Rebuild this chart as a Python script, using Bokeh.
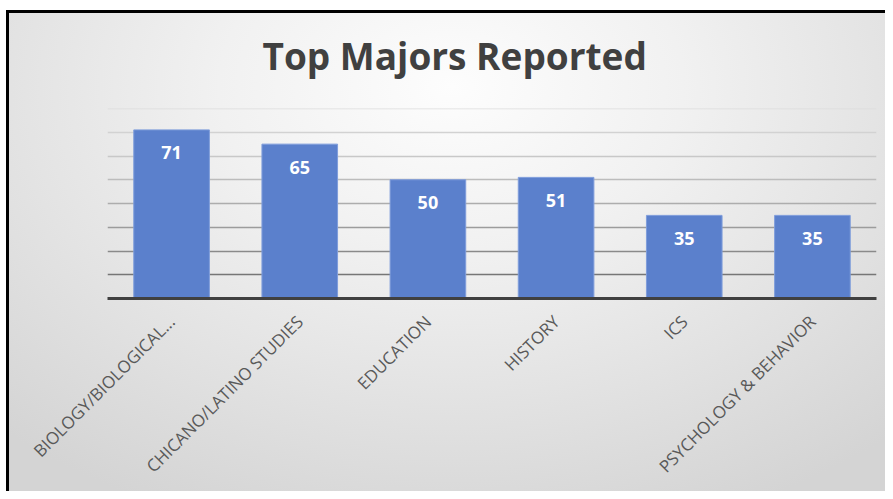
import math
from bokeh.plotting import figure
from bokeh.models import Range1d
from bokeh.core.properties import value
from bokeh.embed import file_html
from bokeh.resources import INLINE

categories = ["BIOLOGY/BIOLOGICAL...", "CHICANO/LATINO STUDIES", "EDUCATION",
              "HISTORY", "ICS", "PSYCHOLOGY & BEHAVIOR"]
counts = [71, 65, 50, 51, 35, 35]
count_labels = [str(v) for v in counts]
grid_levels = [10, 20, 30, 40, 50, 60, 70, 80]
grid_colors = ["#767676", "#8a8a8a", "#9c9c9c", "#adadad", "#bcbcbc", "#c8c8c8", "#d2d2d2", "#dcdcdc"]

p = figure(width=885, height=491, x_range=categories, y_range=Range1d(0, 80),
           output_backend="svg", toolbar_location=None,
           title="Top Majors Reported")
p.min_border_left = 107
p.min_border_right = 9
p.min_border_top = 108
p.min_border_bottom = 193

p.background_fill_alpha = 0
p.border_fill_alpha = 0
p.outline_line_color = None
p.styles = {
    "background": (
        "linear-gradient(#000, #000) 6px 10px / 3px 100% no-repeat, "
        "linear-gradient(#000, #000) 6px 10px / 100% 3px no-repeat, "
        "radial-gradient(ellipse 75% 95% at 50% 15%, #fdfdfd 0%, #f1f1f1 35%, #d4d4d4 100%) 9px 13px / 100% 100% no-repeat, "
        "#ffffff"
    ),
}

p.title.text_font = "Open Sans"
p.title.text_font_style = "bold"
p.title.text_font_size = "37px"
p.title.text_color = "#404040"
p.title.align = "left"
p.title.offset = 155
p.title.standoff = 55

p.xgrid.grid_line_color = None
p.ygrid.grid_line_color = None
p.yaxis.visible = False

p.hspan(y=grid_levels, line_color=grid_colors, line_width=1.5)

p.vbar(x=categories, top=counts, width=0.59, fill_color="#5b80cc", line_color="#7f9ddb", line_width=1)

p.text(x=categories, y=counts, text=count_labels, y_offset=23,
       text_align="center", text_baseline="middle",
       text_font=value("Open Sans"), text_font_style="bold",
       text_font_size="18px", text_color="white")

ax = p.xaxis[0]
ax.axis_line_color = "#404040"
ax.axis_line_width = 3
ax.major_tick_line_color = None
ax.minor_tick_line_color = None
ax.major_label_orientation = math.pi / 4
ax.major_label_text_font = "Open Sans"
ax.major_label_text_font_size = "17px"
ax.major_label_text_color = "#595959"
ax.major_label_standoff = 14

open("out.html", "w").write(file_html(p, INLINE))
